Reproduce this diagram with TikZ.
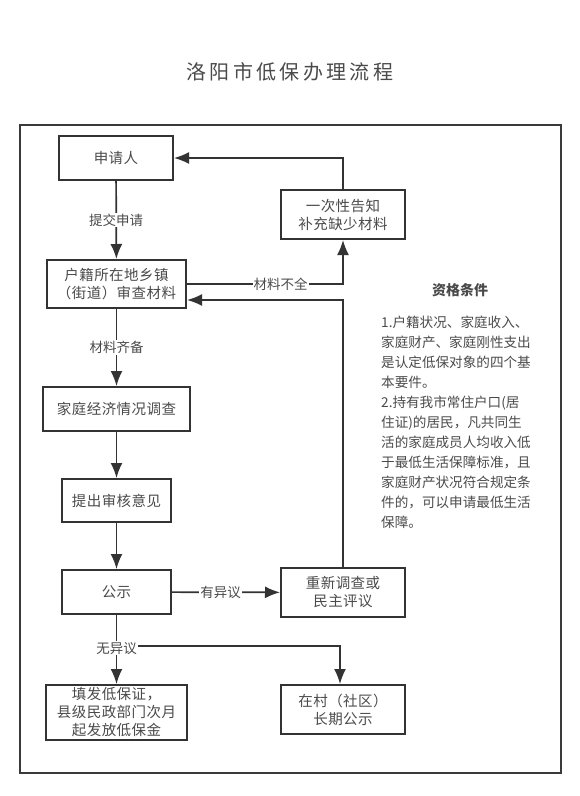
\documentclass[tikz,border=0pt]{standalone}
\usepackage{fontspec}
\setmainfont{Noto Sans CJK SC}
\usepackage{xcolor}
\usetikzlibrary{arrows.meta}

\definecolor{framegray}{HTML}{3A3A3A}
\definecolor{inkgray}{HTML}{333333}
\definecolor{textgray}{HTML}{4A4A4A}

\begin{document}
\begin{tikzpicture}[x=1pt, y=-1pt,
    every node/.style={font=\fontsize{14}{18}\selectfont, text=textgray},
    stepbox/.style={draw=inkgray, line width=2pt, align=center, inner sep=2pt,
      font=\fontsize{14.5}{18}\selectfont\addfontfeatures{LetterSpace=3}},
    flow/.style={-{Latex[length=15pt,width=12pt]}, draw=inkgray, line width=1.7pt},
    tag/.style={fill=white, inner sep=1pt, font=\fontsize{13.5}{15}\selectfont}]
  \useasboundingbox (0,0) rectangle (579,796);
  \node (title) at (290,72) {\fontsize{20}{24}\selectfont 洛\,阳\,市\,低\,保\,办\,理\,流\,程};
  \draw[framegray, line width=2.4pt] (20,125) rectangle (561,773);

  % left column
  \node[stepbox, minimum width=114pt, minimum height=44pt] (apply) at (116,158) {申请人};
  \node[stepbox, minimum width=139pt, minimum height=48pt] (review) at (116.5,284) {户籍所在地乡镇\\（街道）审查材料};
  \node[stepbox, minimum width=147pt, minimum height=44pt] (survey) at (116.5,409) {家庭经济情况调查};
  \node[stepbox, minimum width=109pt, minimum height=43pt] (opinion) at (116.5,500.5) {提出审核意见};
  \node[stepbox, minimum width=109pt, minimum height=44pt] (publicity) at (116.5,592) {公示};
  \node[stepbox, minimum width=141pt, minimum height=55pt] (issue) at (116.5,712.5) {填发低保证，\\县级民政部门次月\\起发放低保金};

  % right column
  \node[stepbox, minimum width=124pt, minimum height=49pt] (notice) at (343,214.5) {一次性告知\\补充缺少材料};
  \node[stepbox, minimum width=124pt, minimum height=49pt] (recheck) at (343,592.5) {重新调查或\\民主评议};
  \node[stepbox, minimum width=124pt, minimum height=49pt] (longpub) at (343,709.5) {在村（社区）\\长期公示};

  \coordinate (fork) at (116.5,646);

  \draw[flow] (apply) -- node[tag] {提交申请} (review);
  \draw[flow] (review) -- node[tag] {材料齐备} (survey);
  \draw[flow] (survey) -- (opinion);
  \draw[flow] (opinion) -- (publicity);
  \draw[flow] (review.east) -- node[tag, pos=0.6] {材料不全} (review.east -| notice) -- (notice.south);
  \draw[flow] (notice.north) |- (apply.east);
  \draw[flow] (recheck.north) |- ([yshift=-16pt]review.east);
  \draw[flow] (publicity) -- node[tag, pos=0.45] {有异议} (recheck);
  \draw[flow] (fork) -| ([xshift=-3pt]longpub.north);
  \draw[flow] (publicity) -- node[tag, pos=0.48] {无异议} (issue);

  % conditions
  \node[font=\fontsize{14}{18}\selectfont\bfseries] (condtitle) at (460,290) {资格条件};
  \node[anchor=north west, align=left, inner sep=0pt,
        font=\fontsize{13.6}{20}\selectfont] (condtext) at (381,316)
    {1.户籍状况、家庭收入、\\
     家庭财产、家庭刚性支出\\
     是认定低保对象的四个基\\
     本要件。\\
     2.持有我市常住户口(居\\
     住证)的居民，凡共同生\\
     活的家庭成员人均收入低\\
     于最低生活保障标准，且\\
     家庭财产状况符合规定条\\
     件的，可以申请最低生活\\
     保障。};
\end{tikzpicture}
\end{document}
